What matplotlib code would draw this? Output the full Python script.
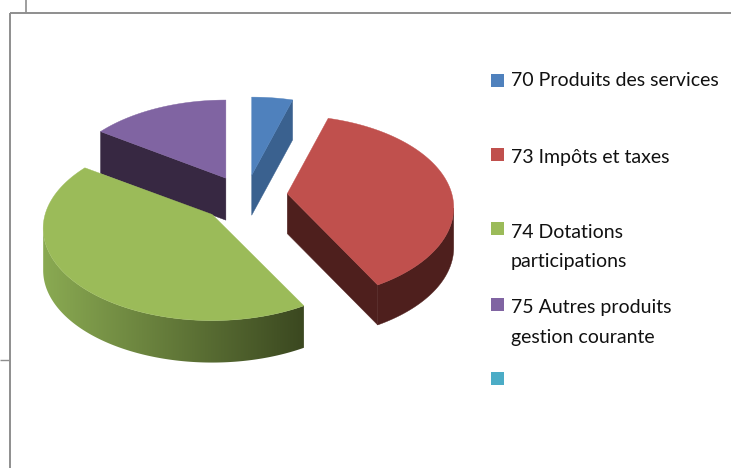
import numpy as np
import matplotlib
matplotlib.use("Agg")
import matplotlib.pyplot as plt
from matplotlib.patches import Polygon, Rectangle
from matplotlib.colors import LinearSegmentedColormap

# Data
categories = ["70 Produits des services", "73 Impôts et taxes",
              "74 Dotations\nparticipations", "75 Autres produits\ngestion courante", ""]
values = [4.6, 37.5, 42.4, 15.5, 0.0]

# Styles
top_colors = ["#4F81BD", "#C0504D", "#9BBB59", "#8064A2", "#4BACC6"]
side_colors = ["#3A618F", "#4E1F1D", "#3D4A22", "#372842", "#2F7F95"]
legend_square_y = [74, 148, 222, 298, 372]
legend_text_y = [81, 157, 232, 307, 381]
line_gap = 30
FRAME = "#8E8E8E"

# Projection (pixels)
CX, CY = 244.5, 199.5
A, B, K = 164.5, 90, 0.152
EX, EY = 43, 23
slice_nudge_x = [1.0, 0.0, -0.5, 1.5, 0.0]
slice_nudge_y = [-1.5, -3.5, -0.5, -1.0, 0.0]
slice_scale_x = [1.0, 1.0, 1.015, 1.0, 1.0]
slice_depth = [40, 40, 42, 40, 0]

plt.rcParams["font.family"] = ["Lato", "DejaVu Sans"]
fig = plt.figure(figsize=(7.31, 4.68), dpi=100, facecolor="white")
ax = fig.add_axes([0, 0, 1, 1])

# Frame lines
ax.plot([9.5, 731], [13, 13], color=FRAME, lw=1.4, solid_capstyle="butt")
ax.plot([9.5, 9.5], [13, 468], color=FRAME, lw=1.4, solid_capstyle="butt")
ax.plot([25.5, 25.5], [0, 13], color=FRAME, lw=1.2, solid_capstyle="butt")
ax.plot([0, 9], [360, 360], color=FRAME, lw=1.0, solid_capstyle="butt")


def project(theta):
    """theta: clockwise from the back of the pie, in radians."""
    X, Y = np.sin(theta), np.cos(theta)
    d = 1 + K * Y
    return A * X / d, -B * Y / d


edges = np.cumsum([0.0] + values) / sum(values) * 2 * np.pi
wedges = {}
for i in range(len(values)):
    if values[i] <= 0:
        continue
    t0, t1 = edges[i], edges[i + 1]
    mid = (t0 + t1) / 2
    ox = CX + EX * np.sin(mid) + slice_nudge_x[i]
    oy = CY - EY * np.cos(mid) + slice_nudge_y[i]
    th = np.linspace(t0, t1, 240)
    px, py = project(th)
    wedges[i] = dict(ox=ox, oy=oy, th=th, x=ox + px * slice_scale_x[i], y=oy + py)


def extrude(x0, y0, x1, y1, color, z, depth):
    ax.add_patch(Polygon([(x0, y0), (x1, y1), (x1, y1 + depth), (x0, y0 + depth)],
                         closed=True, fc=color, ec=color, lw=0.3, zorder=z))


green_map = LinearSegmentedColormap.from_list("g", ["#8AAA52", "#3B4820"])

# back to front: purple, blue, red, green
for z, idx in enumerate([3, 0, 1, 2]):
    w = wedges[idx]
    base = 2 + z * 2
    ox, oy, x, y, th = w["ox"], w["oy"], w["x"], w["y"], w["th"]
    col = side_colors[idx]
    depth = slice_depth[idx]
    if idx == 3:
        extrude(ox, oy, x[0], y[0], col, base, depth + 2)
    elif idx in (0, 1):
        extrude(ox, oy, x[-1], y[-1], col, base, depth)
    mask = np.cos(th) < -K
    if idx in (1, 2) and mask.sum() > 1:
        rx, ry = x[mask], y[mask]
        rim = np.column_stack([np.r_[rx, rx[::-1]], np.r_[ry, ry[::-1] + depth]])
        if idx == 2:
            patch = Polygon(rim, closed=True, fc="none", ec="none", zorder=base)
            ax.add_patch(patch)
            grad = np.linspace(0, 1, 256).reshape(1, -1)
            im = ax.imshow(grad, cmap=green_map, aspect="auto", zorder=base,
                           extent=[rx.min(), rx.max(), ry.max() + depth, ry.min()])
            im.set_clip_path(patch)
        else:
            ax.add_patch(Polygon(rim, closed=True, fc=col, ec=col, lw=0.3, zorder=base))
    ax.add_patch(Polygon(np.column_stack([np.r_[ox, x], np.r_[oy, y]]),
                         closed=True, fc=top_colors[idx], ec=top_colors[idx],
                         lw=0.3, zorder=base + 1))

# Legend
for label, color, sy, ty in zip(categories, top_colors, legend_square_y, legend_text_y):
    ax.add_patch(Rectangle((491, sy), 13, 13, fc=color, ec="none", zorder=20))
    for n, line in enumerate(label.split("\n")):
        if line:
            ax.text(511, ty + n * line_gap, line, fontsize=14, color="#111111",
                    ha="left", va="center", zorder=20)

ax.set_xlim(0, 731)
ax.set_ylim(468, 0)
ax.axis("off")
fig.savefig("out.png", dpi=100)
